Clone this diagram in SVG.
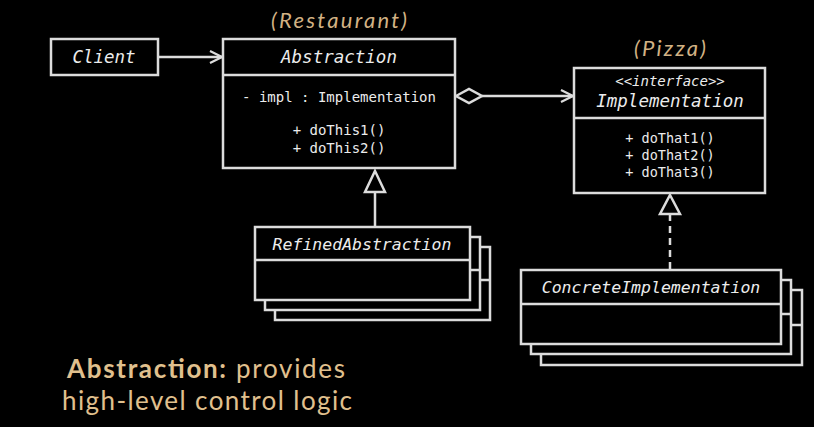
<svg xmlns="http://www.w3.org/2000/svg" width="814" height="427" viewBox="0 0 814 427">
<style>
.box{fill:#000;stroke:#dcdcdc;stroke-width:2.5}
.ln{stroke:#dcdcdc;stroke-width:2.5;fill:none}
.t{font-family:"DejaVu Sans Mono","Liberation Mono",monospace;fill:#ececec;text-anchor:middle}
.ti{font-style:italic;font-size:17.5px}
.tm{font-size:14px}
.lab{font-family:Lato,"Open Sans",sans-serif;fill:#d2b284;font-style:italic;font-size:22px}
.cap{font-family:Lato,"Open Sans",sans-serif;fill:#e0c08e;font-size:26px}
</style>
<defs>
<marker id="open" viewBox="0 0 14 14" refX="13" refY="7" markerWidth="14" markerHeight="14" markerUnits="userSpaceOnUse" orient="auto">
<path d="M1,1 L13,7 L1,13" fill="none" stroke="#dcdcdc" stroke-width="2.2"/>
</marker>
</defs>
<rect width="814" height="427" fill="#000"/>
<text class="lab" x="271" y="28" textLength="136" lengthAdjust="spacing">(Restaurant)</text>
<text class="lab" x="634" y="56" textLength="72" lengthAdjust="spacing">(Pizza)</text>
<g id="connectors">
<line class="ln" x1="158" y1="57" x2="222" y2="57" marker-end="url(#open)"/>
<path class="ln" d="M456,96 L469,89 L482,96 L469,103 Z"/>
<line class="ln" x1="482" y1="96" x2="573" y2="96" marker-end="url(#open)"/>
<line class="ln" x1="375" y1="192" x2="375" y2="227"/>
<path class="ln" d="M375,171 L385,192 L365,192 Z"/>
<line class="ln" x1="670" y1="214" x2="670" y2="270" stroke-dasharray="7,5"/>
<path class="ln" d="M670,195 L680,214 L660,214 Z"/>
</g>
<g id="client">
<rect class="box" x="51" y="39" width="107" height="36"/>
<text class="t ti" x="104" y="63">Client</text>
</g>
<g id="abstraction">
<rect class="box" x="223" y="39" width="232" height="129"/>
<line class="ln" x1="223" y1="75" x2="455" y2="75"/>
<text class="t ti" x="339" y="63">Abstraction</text>
<text class="t tm" x="339" y="102">- impl : Implementation</text>
<text class="t tm" x="339" y="135">+ doThis1()</text>
<text class="t tm" x="339" y="153">+ doThis2()</text>
</g>
<g id="implementation">
<rect class="box" x="574" y="68" width="191" height="125"/>
<line class="ln" x1="574" y1="118" x2="765" y2="118"/>
<text class="t" x="670" y="86" font-size="14" font-style="italic">&lt;&lt;interface&gt;&gt;</text>
<text class="t ti" x="670" y="107">Implementation</text>
<text class="t" x="670" y="143" font-size="13.5">+ doThat1()</text>
<text class="t" x="670" y="160" font-size="13.5">+ doThat2()</text>
<text class="t" x="670" y="177" font-size="13.5">+ doThat3()</text>
</g>
<g id="refined">
<rect class="box" x="275" y="247" width="215" height="73"/>
<line class="ln" x1="275" y1="280" x2="490" y2="280"/>
<rect class="box" x="265" y="237" width="215" height="73"/>
<line class="ln" x1="265" y1="270" x2="480" y2="270"/>
<rect class="box" x="255" y="227" width="215" height="73"/>
<line class="ln" x1="255" y1="260" x2="470" y2="260"/>
<text class="t" x="362" y="250" font-size="16.5" font-style="italic">RefinedAbstraction</text>
</g>
<g id="concrete">
<rect class="box" x="541" y="290" width="261" height="75"/>
<line class="ln" x1="541" y1="325" x2="802" y2="325"/>
<rect class="box" x="531" y="280" width="260" height="74"/>
<line class="ln" x1="531" y1="314" x2="791" y2="314"/>
<rect class="box" x="521" y="270" width="260" height="74"/>
<line class="ln" x1="521" y1="304" x2="781" y2="304"/>
<text class="t" x="651" y="293" font-size="16.5" font-style="italic">ConcreteImplementation</text>
</g>
<text class="cap" x="67" y="378" textLength="278" lengthAdjust="spacing"><tspan font-weight="bold">Abstraction:</tspan> provides</text>
<text class="cap" x="62" y="410" textLength="290" lengthAdjust="spacing">high-level control logic</text>
</svg>
